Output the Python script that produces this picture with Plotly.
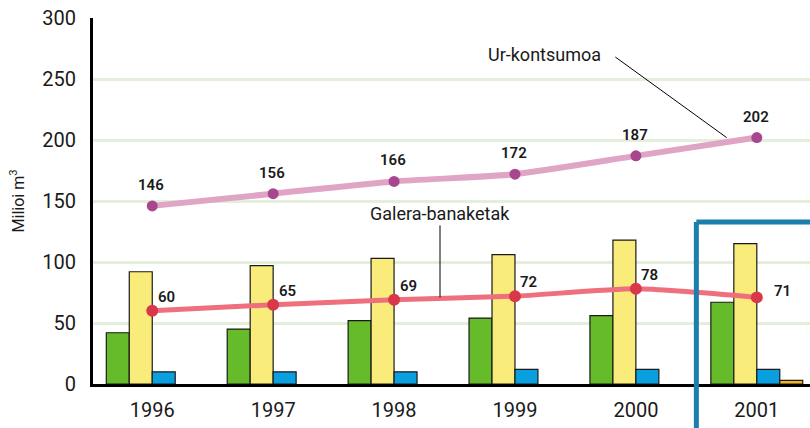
import plotly.graph_objects as go

years = ["1996", "1997", "1998", "1999", "2000", "2001"]
green_vals = [42, 45, 52, 54, 56, 67]
yellow_vals = [92, 97, 103, 106, 118, 115]
blue_vals = [10, 10, 10, 12, 12, 12]
orange_vals = [None, None, None, None, None, 3]
galera_vals = [60, 65, 69, 72, 78, 71]
ur_vals = [146, 156, 166, 172, 187, 202]
y_ticks = [0, 50, 100, 150, 200, 250, 300]

FONT = "Roboto, Liberation Sans, sans-serif"
INK = "#1a1a1a"

fig = go.Figure()
bar_line = dict(color=INK, width=1.2)
fig.add_trace(go.Bar(x=years, y=green_vals, marker=dict(color="#66bb2a", line=bar_line)))
fig.add_trace(go.Bar(x=years, y=yellow_vals, marker=dict(color="#f9ec7a", line=bar_line)))
fig.add_trace(go.Bar(x=years, y=blue_vals, marker=dict(color="#0aa0e0", line=bar_line)))
fig.add_trace(go.Bar(x=years, y=orange_vals, marker=dict(color="#f5b324", line=bar_line)))

fig.add_trace(go.Scatter(
    x=years, y=ur_vals, mode="lines+markers",
    line=dict(color="#e0a5c4", width=6, shape="spline", smoothing=0.6),
    marker=dict(color="#a8478f", size=11),
    cliponaxis=False,
))
fig.add_trace(go.Scatter(
    x=years, y=galera_vals, mode="lines+markers",
    line=dict(color="#ee6f7e", width=5, shape="spline", smoothing=0.6),
    marker=dict(color="#d9374a", size=12),
    cliponaxis=False,
))

label_font = dict(family=FONT, size=15, color=INK, weight=600)
annotations = []
for i, v in enumerate(ur_vals):
    annotations.append(dict(x=i, y=v, xref="x", yref="y", text=str(v),
                            showarrow=False, font=label_font, yshift=21, xshift=-1))
for i, v in enumerate(galera_vals):
    if i == 5:
        xs, ys = 26, 6
    else:
        xs, ys = 14, 14
    annotations.append(dict(x=i, y=v, xref="x", yref="y", text=str(v),
                            showarrow=False, font=label_font, xshift=xs, yshift=ys))
annotations += [
    dict(text="Ur-kontsumoa", x=3.24, y=270, xref="x", yref="y",
         showarrow=False, font=dict(size=18, color=INK), xanchor="center"),
    dict(text="Galera-banaketak", x=2.38, y=140, xref="x", yref="y",
         showarrow=False, font=dict(size=18, color=INK), xanchor="center"),
]

fig.update_layout(
    width=810, height=428,
    margin=dict(l=93, r=0, t=18, b=44),
    paper_bgcolor="white", plot_bgcolor="white",
    showlegend=False,
    barmode="group", bargap=0.24, bargroupgap=0,
    font=dict(family=FONT, color=INK),
    xaxis=dict(
        type="category", range=[-0.49, 5.44],
        showline=True, linecolor="black", linewidth=3,
        showgrid=False, ticks="", tickfont=dict(size=20),
        ticklabelstandoff=6,
    ),
    yaxis=dict(
        range=[0, 300], tickvals=y_ticks,
        showline=True, linecolor="black", linewidth=3,
        showgrid=True, gridcolor="#e3eedb", gridwidth=3,
        zeroline=False, ticks="", tickfont=dict(size=20),
        ticklabelstandoff=10,
        title=dict(text="Milioi m<sup>3</sup>", font=dict(size=16), standoff=14),
    ),
    annotations=annotations,
    shapes=[
        dict(type="line", xref="paper", yref="paper",
             x0=0.8415, x1=0.8415, y0=-0.2, y1=0.4426,
             line=dict(color="#1b7fae", width=5)),
        dict(type="line", xref="paper", yref="paper",
             x0=0.8415, x1=1.01, y0=0.4426, y1=0.4426,
             line=dict(color="#1b7fae", width=5)),
        dict(type="line", xref="x", yref="y", x0=3.83, y0=268, x1=4.75, y1=202,
             line=dict(color="black", width=1)),
        dict(type="line", xref="x", yref="y", x0=2.38, y0=130, x1=2.38, y1=71,
             line=dict(color="black", width=1)),
    ],
)

fig.write_html("out.html", config={"displayModeBar": False},
               post_script="document.body.style.margin='0';document.body.style.overflow='hidden';")
